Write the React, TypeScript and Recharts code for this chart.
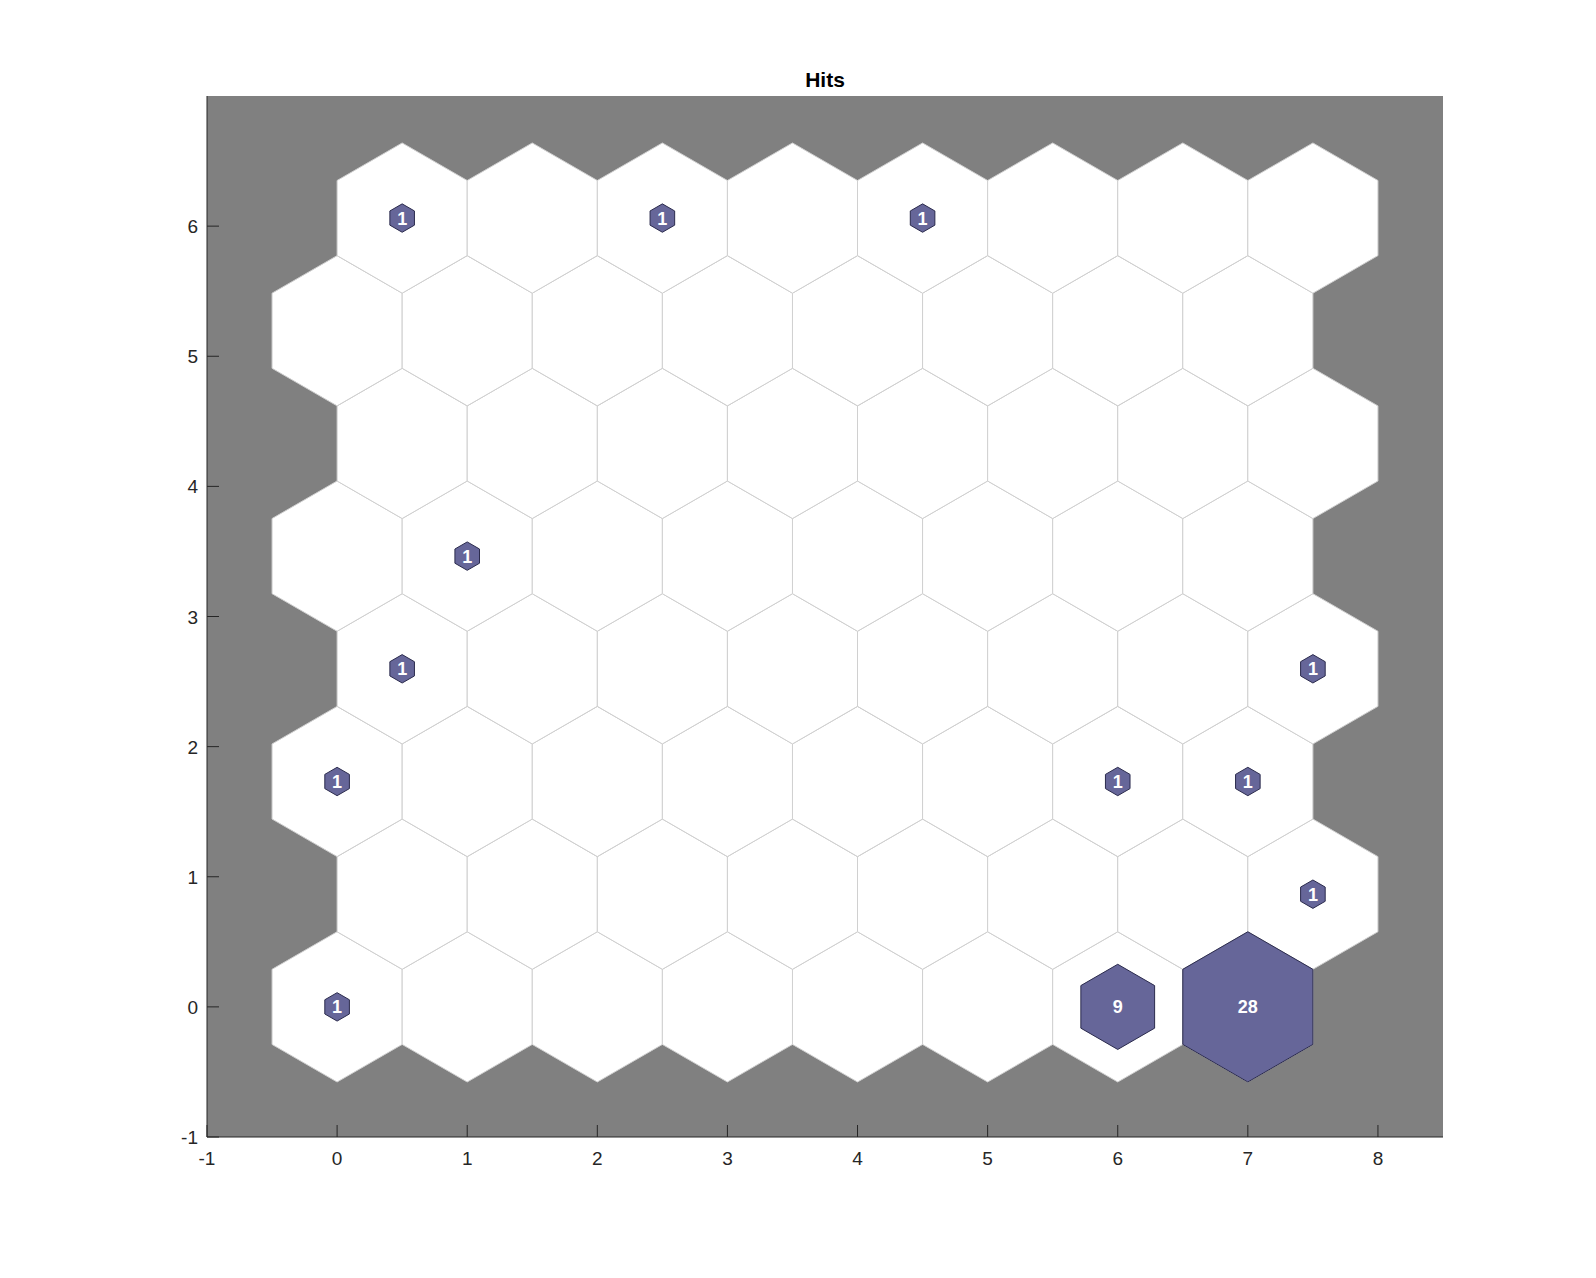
import React from "react";
import {
  ReferenceArea,
  Scatter,
  ScatterChart,
  XAxis,
  YAxis,
} from "recharts";

// SOM hex grid layout: 8 rows, odd rows shifted by half a cell
const evenRowX = [0, 1, 2, 3, 4, 5, 6, 7];
const oddRowX = [0.5, 1.5, 2.5, 3.5, 4.5, 5.5, 6.5, 7.5];
const rowY = [0, 0.866, 1.732, 2.598, 3.464, 4.33, 5.196, 6.062];

// neurons that received hits
const hitX = [0.5, 2.5, 4.5, 1, 0.5, 7.5, 0, 6, 7, 7.5, 0, 6, 7];
const hitY = [6.062, 6.062, 6.062, 3.464, 2.598, 2.598, 1.732, 1.732, 1.732, 0.866, 0, 0, 0];
const hitCount = [1, 1, 1, 1, 1, 1, 1, 1, 1, 1, 1, 9, 28];

const xTicks = [-1, 0, 1, 2, 3, 4, 5, 6, 7, 8];
const yTicks = [-1, 0, 1, 2, 3, 4, 5, 6];

const X_DOMAIN: [number, number] = [-1, 8.5];
const Y_DOMAIN: [number, number] = [-1, 7];

const W = 1596;
const H = 1278;
const MARGIN = { top: 96, right: 153, bottom: 101, left: 147 };
const Y_AXIS_W = 60;
const X_AXIS_H = 40;
const PLOT_W = W - MARGIN.left - MARGIN.right - Y_AXIS_W;
const PX = PLOT_W / (X_DOMAIN[1] - X_DOMAIN[0]);

const FONT = "'Liberation Sans', Helvetica, Arial, sans-serif";
const AXIS = "#262626";
const TICK_LEN = 12;

const cells = rowY.flatMap((y, r) =>
  (r % 2 === 0 ? evenRowX : oddRowX).map((x) => ({ x, y })),
);
const maxHits = Math.max(...hitCount);
const hits = hitX.map((x, i) => ({ x, y: hitY[i], count: hitCount[i] }));

function hexPoints(cx: number, cy: number, R: number) {
  const h = (R * Math.sqrt(3)) / 2;
  return [
    [cx, cy - R],
    [cx + h, cy - R / 2],
    [cx + h, cy + R / 2],
    [cx, cy + R],
    [cx - h, cy + R / 2],
    [cx - h, cy - R / 2],
  ]
    .map((p) => p.join(","))
    .join(" ");
}

const CellShape = (props: any) => {
  const R = PX / Math.sqrt(3);
  return (
    <polygon
      points={hexPoints(props.cx, props.cy, R)}
      fill="#ffffff"
      stroke="#d0d0d0"
      strokeWidth={1}
    />
  );
};

const HitShape = (props: any) => {
  const count = props.payload.count;
  const R = (Math.sqrt(count / maxHits) * PX) / Math.sqrt(3);
  return (
    <g>
      <polygon
        points={hexPoints(props.cx, props.cy, R)}
        fill="#666699"
        stroke="#2b2b4d"
        strokeWidth={1}
      />
      <text
        x={props.cx}
        y={props.cy + 6.5}
        textAnchor="middle"
        fill="#ffffff"
        fontSize={18}
        fontWeight="bold"
        fontFamily={FONT}
      >
        {count}
      </text>
    </g>
  );
};

const BottomTick = (props: any) => (
  <g>
    <line x1={props.x} y1={props.y} x2={props.x} y2={props.y - TICK_LEN} stroke={AXIS} />
    <text x={props.x} y={props.y + 28} textAnchor="middle" fontSize={19} fill={AXIS} fontFamily={FONT}>
      {props.payload.value}
    </text>
  </g>
);

const LeftTick = (props: any) => (
  <g>
    <line x1={props.x} y1={props.y} x2={props.x + TICK_LEN} y2={props.y} stroke={AXIS} />
    <text x={props.x - 9} y={props.y + 7} textAnchor="end" fontSize={19} fill={AXIS} fontFamily={FONT}>
      {props.payload.value}
    </text>
  </g>
);

const TopTick = (props: any) => (
  <line x1={props.x} y1={props.y} x2={props.x} y2={props.y + TICK_LEN} stroke={AXIS} />
);

const RightTick = (props: any) => (
  <line x1={props.x} y1={props.y} x2={props.x - TICK_LEN} y2={props.y} stroke={AXIS} />
);

export default function App() {
  return (
    <div style={{ position: "absolute", left: 0, top: 0, width: W, height: H, background: "#fff" }}>
      <ScatterChart width={W} height={H} margin={MARGIN}>
        <XAxis
          xAxisId="b"
          dataKey="x"
          type="number"
          domain={X_DOMAIN}
          ticks={xTicks}
          interval={0}
          height={X_AXIS_H}
          tickSize={0}
          tickMargin={0}
          tick={<BottomTick />}
          axisLine={{ stroke: AXIS }}
          allowDataOverflow
        />
        <XAxis
          xAxisId="t"
          orientation="top"
          dataKey="x"
          type="number"
          domain={X_DOMAIN}
          ticks={xTicks}
          interval={0}
          height={0}
          tickSize={0}
          tickMargin={0}
          tick={<TopTick />}
          axisLine={{ stroke: AXIS }}
          allowDataOverflow
        />
        <YAxis
          yAxisId="l"
          dataKey="y"
          type="number"
          domain={Y_DOMAIN}
          ticks={yTicks}
          interval={0}
          width={Y_AXIS_W}
          tickSize={0}
          tickMargin={0}
          tick={<LeftTick />}
          axisLine={{ stroke: AXIS }}
          allowDataOverflow
        />
        <YAxis
          yAxisId="r"
          orientation="right"
          dataKey="y"
          type="number"
          domain={Y_DOMAIN}
          ticks={yTicks}
          interval={0}
          width={0}
          tickSize={0}
          tickMargin={0}
          tick={<RightTick />}
          axisLine={{ stroke: AXIS }}
          allowDataOverflow
        />
        <ReferenceArea
          xAxisId="b"
          yAxisId="l"
          x1={X_DOMAIN[0]}
          x2={X_DOMAIN[1]}
          y1={Y_DOMAIN[0]}
          y2={Y_DOMAIN[1]}
          fill="#808080"
          fillOpacity={1}
          stroke="none"
        />
        <Scatter
          xAxisId="b"
          yAxisId="l"
          data={cells}
          shape={<CellShape />}
          isAnimationActive={false}
        />
        <Scatter
          xAxisId="t"
          yAxisId="r"
          data={hits}
          shape={<HitShape />}
          isAnimationActive={false}
        />
      </ScatterChart>
      <div
        style={{
          position: "absolute",
          left: MARGIN.left + Y_AXIS_W,
          width: PLOT_W,
          top: 68,
          textAlign: "center",
          fontFamily: FONT,
          fontWeight: "bold",
          fontSize: 21,
          lineHeight: "24px",
          color: "#000",
        }}
      >
        Hits
      </div>
    </div>
  );
}
